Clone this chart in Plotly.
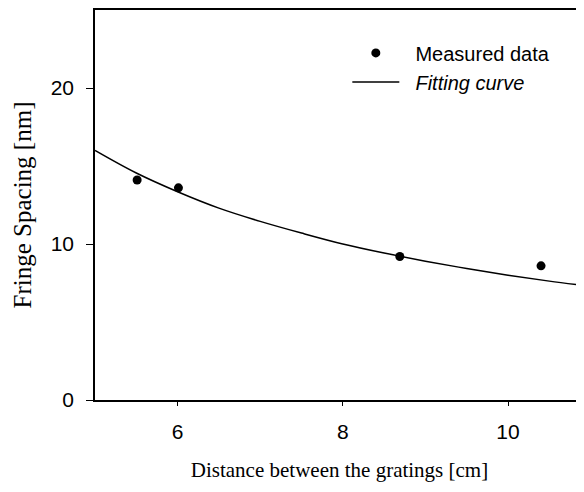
import plotly.graph_objects as go

meas_x = [5.51, 6.01, 8.69, 10.40]
meas_y = [14.1, 13.6, 9.2, 8.6]

# Fitting curve samples
fit_x = [5.0, 5.5, 6.0, 6.5, 7.0, 7.5, 8.0, 8.5, 9.0, 9.5, 10.0, 10.5, 11.0]
fit_y = [16.0, 14.55, 13.35, 12.3, 11.45, 10.7, 10.0, 9.42, 8.9, 8.43, 8.0, 7.62, 7.28]

x_ticks = [6, 8, 10]
y_ticks = [0, 10, 20]

fig = go.Figure()
fig.add_trace(go.Scatter(
    x=meas_x, y=meas_y, mode="markers", name="&nbsp;&nbsp;Measured data",
    marker=dict(color="black", size=9),
))
fig.add_trace(go.Scatter(
    x=fit_x, y=fit_y, mode="lines", name="&nbsp;&nbsp;<i>Fitting curve</i>",
    line=dict(color="black", width=1.5, shape="spline"),
))

fig.update_layout(
    width=576, height=484,
    margin=dict(l=87, r=0, t=0, b=92),
    plot_bgcolor="white", paper_bgcolor="white",
    showlegend=True,
    legend=dict(
        x=0.516, y=0.94, xanchor="left", yanchor="top",
        bgcolor="rgba(0,0,0,0)",
        font=dict(family="Liberation Sans, Arial", size=20, color="black"),
        itemwidth=47, tracegroupgap=0,
    ),
    xaxis=dict(
        range=[5, 10.92], tickvals=x_ticks,
        showline=True, linecolor="black", linewidth=1.5, mirror=True,
        ticks="outside", ticklen=4, tickcolor="black", tickwidth=1,
        ticklabelstandoff=8,
        showgrid=False, zeroline=False,
        tickfont=dict(family="Liberation Sans, Arial", size=21, color="black"),
        title=dict(text="Distance between the gratings [cm]", standoff=20,
                   font=dict(family="Liberation Serif, Times New Roman", size=21, color="black")),
    ),
    yaxis=dict(
        range=[0, 25], tickvals=y_ticks,
        showline=True, linecolor="black", linewidth=1.5, mirror=False,
        ticks="outside", ticklen=7, tickcolor="black", tickwidth=1,
        ticklabelstandoff=8,
        showgrid=False, zeroline=False,
        tickfont=dict(family="Liberation Sans, Arial", size=21, color="black"),
        title=dict(text="Fringe Spacing [nm]", standoff=12,
                   font=dict(family="Liberation Serif, Times New Roman", size=25, color="black")),
    ),
)

fig.write_html("out.html")
